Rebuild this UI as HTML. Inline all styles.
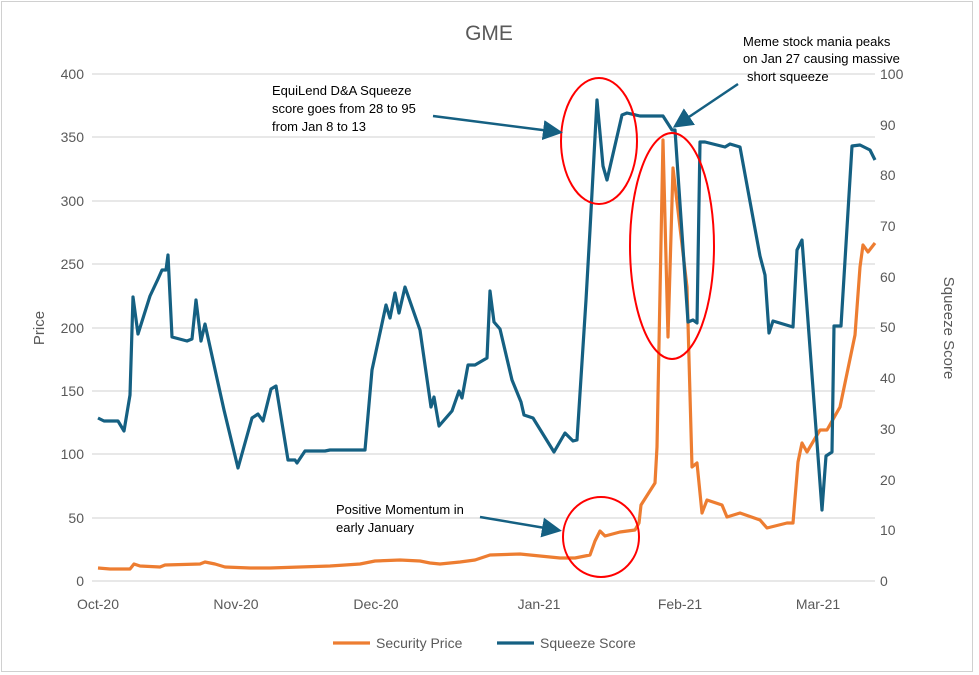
<!DOCTYPE html>
<html><head><meta charset="utf-8"><style>
body{margin:0;background:#fff;}
svg{display:block;font-family:"Liberation Sans",sans-serif;}
</style></head><body>
<svg width="979" height="675" viewBox="0 0 979 675">
<rect x="1.5" y="1.5" width="971" height="670" fill="#fff" stroke="#d0d0d0"/>
<text x="489" y="40" font-size="21" fill="#595959" text-anchor="middle">GME</text>
<g stroke="#d9d9d9" stroke-width="1.3">
<line x1="92" x2="875" y1="74" y2="74"/><line x1="92" x2="875" y1="137" y2="137"/>
<line x1="92" x2="875" y1="201" y2="201"/><line x1="92" x2="875" y1="264" y2="264"/>
<line x1="92" x2="875" y1="328" y2="328"/><line x1="92" x2="875" y1="391" y2="391"/>
<line x1="92" x2="875" y1="454" y2="454"/><line x1="92" x2="875" y1="518" y2="518"/>
<line x1="92" x2="875" y1="581" y2="581"/>
</g>
<g font-size="14" fill="#595959" text-anchor="end">
<text x="84" y="79">400</text><text x="84" y="142">350</text><text x="84" y="206">300</text>
<text x="84" y="269">250</text><text x="84" y="333">200</text><text x="84" y="396">150</text>
<text x="84" y="459">100</text><text x="84" y="523">50</text><text x="84" y="586">0</text>
</g>
<g font-size="14" fill="#595959">
<text x="880" y="79">100</text><text x="880" y="130">90</text><text x="880" y="180">80</text>
<text x="880" y="231">70</text><text x="880" y="282">60</text><text x="880" y="332">50</text>
<text x="880" y="383">40</text><text x="880" y="434">30</text><text x="880" y="485">20</text>
<text x="880" y="535">10</text><text x="880" y="586">0</text>
</g>
<g font-size="14" fill="#595959" text-anchor="middle">
<text x="98" y="609">Oct-20</text><text x="236" y="609">Nov-20</text><text x="376" y="609">Dec-20</text>
<text x="539" y="609">Jan-21</text><text x="680" y="609">Feb-21</text><text x="818" y="609">Mar-21</text>
</g>
<text transform="translate(44,328) rotate(-90)" font-size="15" fill="#595959" text-anchor="middle">Price</text>
<text transform="translate(944,328) rotate(90)" font-size="15" fill="#595959" text-anchor="middle">Squeeze Score</text>
<polyline fill="none" stroke="#ed7d31" stroke-width="3.2" stroke-linejoin="round" points="98,568 110,569 130,569 134,564 140,566 160,567 165,565 200,564 205,562 215,564 225,567 250,568 270,568 300,567 330,566 360,564 375,561 400,560 420,561 430,563 440,564 460,562 475,560 490,555 520,554 540,556 560,558 575,558 590,555 595,541 600,531 605,536 620,532 635,530 639,523 641,505 655,483 657,447 663,140 668,337 673,168 687,287 692,467 697,463 702,513 707,500 722,505 727,517 740,513 760,520 767,528 787,523 793,523 798,462 802,443 807,452 820,430 827,430 840,407 855,335 860,267 863,245 868,252 875,243"/>
<polyline fill="none" stroke="#156082" stroke-width="3.2" stroke-linejoin="round" points="98,418 104,421 118,421 124,431 130,395 133,297 138,334 150,296 158,279 162,270 166,270 168,255 172,337 187,341 192,339 196,300 201,341 205,324 218,383 224,410 238,468 252,418 258,414 263,421 271,389 276,386 288,460 295,460 297,463 305,451 315,451 325,451 330,450 365,450 372,370 386,305 390,318 395,293 399,313 405,287 420,330 431,407 434,397 439,426 452,411 459,391 462,398 468,365 475,365 487,358 490,291 494,322 500,329 512,380 521,402 524,415 533,418 554,452 565,433 573,441 577,440 586,300 590,230 597,100 603,166 607,180 622,115 627,113 640,116 663,116 672,130 675,130 688,322 693,320 697,323 700,142 705,142 725,147 730,144 740,147 760,256 765,275 769,333 773,321 793,327 797,250 802,240 822,510 826,456 832,452 834,326 841,326 852,146 860,145 870,150 875,160"/>
<g fill="none" stroke="#ff0000" stroke-width="2">
<ellipse cx="599" cy="141" rx="38" ry="63"/>
<ellipse cx="672" cy="246" rx="42" ry="113"/>
<ellipse cx="601" cy="537" rx="38" ry="40"/>
</g>
<defs><marker id="ah" markerWidth="8" markerHeight="8" refX="6" refY="4" orient="auto"><path d="M0,0 L8,4 L0,8 z" fill="#156082"/></marker></defs>
<g stroke="#156082" stroke-width="2.5" marker-end="url(#ah)">
<line x1="433" y1="116" x2="558" y2="132"/>
<line x1="738" y1="84" x2="677" y2="125"/>
<line x1="480" y1="517" x2="557" y2="530"/>
</g>
<g font-size="13" fill="#000">
<text x="272" y="95">EquiLend D&amp;A Squeeze</text>
<text x="272" y="113">score goes from 28 to 95</text>
<text x="272" y="131">from Jan 8 to 13</text>
<text x="743" y="46">Meme stock mania peaks</text>
<text x="743" y="63">on Jan 27 causing massive</text>
<text x="747" y="81">short squeeze</text>
<text x="336" y="514">Positive Momentum in</text>
<text x="336" y="532">early January</text>
</g>
<line x1="333" y1="643" x2="370" y2="643" stroke="#ed7d31" stroke-width="3.2"/>
<text x="376" y="648" font-size="14" fill="#595959">Security Price</text>
<line x1="497" y1="643" x2="534" y2="643" stroke="#156082" stroke-width="3.2"/>
<text x="540" y="648" font-size="14" fill="#595959">Squeeze Score</text>
</svg>
</body></html>
